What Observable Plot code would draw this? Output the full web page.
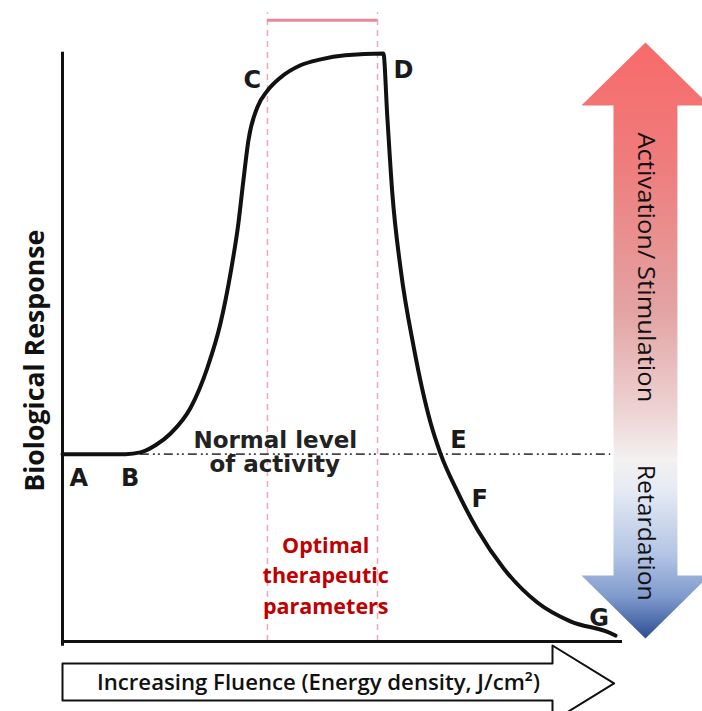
<!DOCTYPE html>
<html>
<head>
<meta charset="utf-8">
<script src="https://cdn.jsdelivr.net/npm/d3@7"></script>
<script src="https://cdn.jsdelivr.net/npm/@observablehq/plot@0.6"></script>
<style>
  html, body { margin: 0; padding: 0; background: #fff; overflow: hidden; }
  #chart svg { display: block; }
</style>
</head>
<body>
<div id="chart"></div>
<script>
// ---- data (fluence 0–100 along x, biological response 0–100 along y) ----
const curveFluence  = [0, 11.25, 13.9, 16.6, 19.3, 22.9, 25.9, 28.2, 30.0, 31.4, 32.3, 33.2, 34.8, 36.6, 38.9, 42.5, 46.1, 50.5, 57.3,
                       58.0, 58.9, 60.4, 62.7, 65.7, 67.5, 70.5, 74.1, 78.75, 84.8, 90.7, 97.9, 98.75];
const curveResponse = [31.7, 31.7, 32.0, 33.2, 35.2, 39.6, 46.4, 53.8, 62.3, 70.7, 78.0, 84.8, 90.4, 93.2, 95.4, 97.5, 98.5, 99.2, 99.5,
                       88.8, 75.8, 62.9, 49.9, 37.1, 31.8, 25.4, 18.9, 12.4, 6.6, 3.4, 1.4, 1.0];
const normalLevel = 31.7;
const normalLineRange = [13.9, 97.9];
const optimalRange = [36.6, 56.25];
const optimalTop = 106.4;
const optimalBar = 105.1;

const pointLabels = ["A", "B", "C", "D", "E", "F", "G"];
const pointLabelX = [2.9, 12.1, 33.9, 60.9, 70.7, 74.5, 95.8];
const pointLabelY = [27.6, 27.6, 94.9, 96.6, 34.0, 24.0, 3.9];

const normalText = ["Normal level", "of activity"];
const normalTextX = [38.0, 37.9];
const normalTextY = [34.0, 30.0];

const optimalText = ["Optimal", "therapeutic", "parameters"];
const optimalTextX = [47.0, 47.0, 47.0];
const optimalTextY = [16.2, 11.0, 5.75];

const yAxisTitle = "Biological Response";
const xAxisTitle = "Increasing Fluence (Energy density, J/cm²)";
const arrowUpText = "Activation/ Stimulation";
const arrowDownText = "Retardation";

// response arrow (right) and fluence arrow (bottom), in data units
const respArrowCenter = 104.1, respHeadHalf = 11.43, respShaftHalf = 5.71;
const respTip = 101.35, respTopBase = 90.7, respBottomBase = 11.17, respBottomTip = 0.51;
const flArrowLeft = 0, flNotch = 87.5, flTip = 98.5;
const flRectTop = -3.72, flRectBottom = -9.98, flHeadTop = -0.68, flHeadBottom = -13.5, flMid = -7.1;

// ---- build tables ----
const curve = curveFluence.map((x, i) => ({x, y: curveResponse[i]}));
const labels = pointLabels.map((t, i) => ({t, x: pointLabelX[i], y: pointLabelY[i]}));
const normals = normalText.map((t, i) => ({t, x: normalTextX[i], y: normalTextY[i]}));
const optimals = optimalText.map((t, i) => ({t, x: optimalTextX[i], y: optimalTextY[i]}));

const c = respArrowCenter;
const respArrow = [
  [c, respTip], [c + respHeadHalf, respTopBase], [c + respShaftHalf, respTopBase],
  [c + respShaftHalf, respBottomBase], [c + respHeadHalf, respBottomBase], [c, respBottomTip],
  [c - respHeadHalf, respBottomBase], [c - respShaftHalf, respBottomBase], [c - respShaftHalf, respTopBase],
  [c - respHeadHalf, respTopBase], [c, respTip]
].map(([x, y]) => ({x, y}));

const flArrow = [
  [flArrowLeft, flRectTop], [flNotch, flRectTop], [flNotch, flHeadTop], [flTip, flMid],
  [flNotch, flHeadBottom], [flNotch, flRectBottom], [flArrowLeft, flRectBottom], [flArrowLeft, flRectTop]
].map(([x, y]) => ({x, y}));

const pinkDash = "#f0a6b6";
const pinkSolid = "#e8889a";
const labelFont = "DejaVu Sans";
const calibriLike = "Open Sans";

const plot = Plot.plot({
  width: 702,
  height: 711,
  marginLeft: 62,
  marginRight: 80,
  marginTop: 50,
  marginBottom: 70,
  x: {domain: [0, 100], axis: null},
  y: {domain: [0, 100], axis: null},
  style: {background: "#fff", overflow: "visible"},
  marks: [
    // optimal range guides
    Plot.ruleX(optimalRange, {y1: 0, y2: optimalTop, stroke: pinkDash, strokeWidth: 1.5, strokeDasharray: "6,5"}),
    Plot.ruleY([optimalBar], {x1: optimalRange[0], x2: optimalRange[1], stroke: pinkSolid, strokeWidth: 3}),
    // normal level
    Plot.ruleY([normalLevel], {x1: normalLineRange[0], x2: normalLineRange[1], stroke: "#444", strokeWidth: 1.6, strokeDasharray: "9,4,2,3,2,4"}),
    // response arrow
    Plot.line(respArrow, {x: "x", y: "y", fill: "url(#respGrad)", stroke: "none", curve: "linear"}),
    Plot.text([arrowUpText], {x: c, y: 63.3, text: d => d, rotate: 90, fontSize: 23, fontFamily: calibriLike, fill: "#111"}),
    Plot.text([arrowDownText], {x: c, y: 18.4, text: d => d, rotate: 90, fontSize: 23, fontFamily: calibriLike, fill: "#111"}),
    // fluence arrow
    Plot.line(flArrow, {x: "x", y: "y", fill: "#fff", stroke: "#111", strokeWidth: 2, curve: "linear"}),
    Plot.text([xAxisTitle], {x: 45.7, y: flMid, text: d => d, fontSize: 21, fontWeight: 600, fontFamily: calibriLike, fill: "#111"}),
    // axes
    Plot.ruleX([0], {y1: -0.8, y2: 99.7, stroke: "#111", strokeWidth: 3}),
    Plot.ruleY([0], {x1: 0, x2: 100, stroke: "#111", strokeWidth: 3}),
    Plot.text([yAxisTitle], {x: -4.8, y: 47.5, text: d => d, rotate: -90, fontSize: 26, fontWeight: 700, fontFamily: calibriLike, fill: "#111"}),
    // response curve
    Plot.line(curve, {x: "x", y: "y", stroke: "#111", strokeWidth: 4, curve: "monotone-x"}),
    // annotations
    Plot.text(labels, {x: "x", y: "y", text: "t", fontSize: 24, fontWeight: 700, fontFamily: labelFont, fill: "#1a1a1a"}),
    Plot.text(normals, {x: "x", y: "y", text: "t", fontSize: 23, fontWeight: 700, fontFamily: labelFont, fill: "#222"}),
    Plot.text(optimals, {x: "x", y: "y", text: "t", fontSize: 21.5, fontWeight: 700, fontFamily: calibriLike, fill: "#c00000"})
  ]
});

// gradient for the response arrow
const defs = d3.select(plot).insert("defs", ":first-child");
const grad = defs.append("linearGradient").attr("id", "respGrad")
  .attr("x1", 0).attr("y1", 0).attr("x2", 0).attr("y2", 1);
[[0, "#f86a6a"], [0.2, "#ef7c7c"], [0.45, "#e3a3a3"], [0.62, "#eed3d3"], [0.7, "#f3f1f1"],
 [0.75, "#e6ebf4"], [0.86, "#b3c4e4"], [0.93, "#7f9acd"], [1, "#2d4e94"]]
  .forEach(([o, col]) => grad.append("stop").attr("offset", o).attr("stop-color", col));

// stretch long labels to the lengths seen in the reference
const fitLength = {[arrowUpText]: 270, [arrowDownText]: 136, [xAxisTitle]: 443, [yAxisTitle]: 262};
d3.select(plot).selectAll("text").each(function () {
  const len = fitLength[this.textContent];
  if (len) d3.select(this).attr("textLength", len).attr("lengthAdjust", "spacingAndGlyphs");
});

document.getElementById("chart").appendChild(plot);
</script>
</body>
</html>
